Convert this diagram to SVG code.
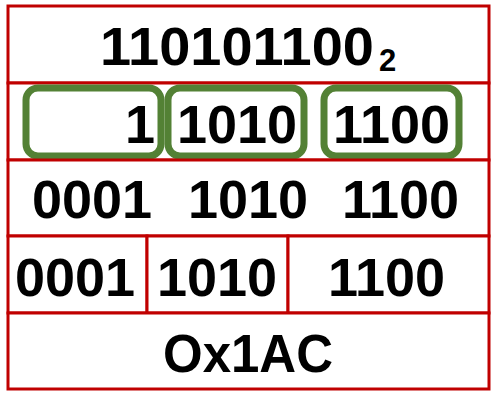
<svg xmlns="http://www.w3.org/2000/svg" width="500" height="400" viewBox="0 0 500 400">
<style>
.cell{fill:#fff;stroke:#C00000;stroke-width:3}
.grp{fill:none;stroke:#538135;stroke-width:7}
.t{font-family:"Liberation Sans",Arial,sans-serif;font-weight:bold;font-size:54px;fill:#000}
</style>
<rect width="500" height="400" fill="#fff"/>
<g id="row1">
<rect class="cell" x="8" y="6" width="481" height="77"/>
<text class="t" x="100" y="65" textLength="274" lengthAdjust="spacingAndGlyphs">110101100</text>
<text class="t" x="379" y="71" style="font-size:31px">2</text>
</g>
<g id="row2">
<rect class="cell" x="8" y="83" width="481" height="77"/>
<text class="t" x="125" y="143">1</text>
<text class="t" x="177" y="143">1010</text>
<text class="t" x="333" y="143">1100</text>
</g>
<g id="groups">
<rect class="grp" x="26" y="88" width="135" height="68" rx="12"/>
<rect class="grp" x="168" y="88" width="136" height="68" rx="12"/>
<rect class="grp" x="324" y="88" width="135" height="68" rx="12"/>
</g>
<g id="row3">
<rect class="cell" x="8" y="160" width="481" height="76"/>
<text class="t" x="32" y="218">0001</text>
<text class="t" x="188" y="218">1010</text>
<text class="t" x="342" y="218">1100</text>
</g>
<g id="row4">
<rect class="cell" x="8" y="236" width="139" height="77"/>
<rect class="cell" x="147" y="236" width="141" height="77"/>
<rect class="cell" x="288" y="236" width="201" height="77"/>
<text class="t" x="15" y="296">0001</text>
<text class="t" x="157" y="296">1010</text>
<text class="t" x="328" y="296">1100</text>
</g>
<g id="row5">
<rect class="cell" x="8" y="313" width="481" height="76"/>
<text class="t" x="163" y="372" textLength="170" lengthAdjust="spacingAndGlyphs">Ox1AC</text>
</g>
</svg>
